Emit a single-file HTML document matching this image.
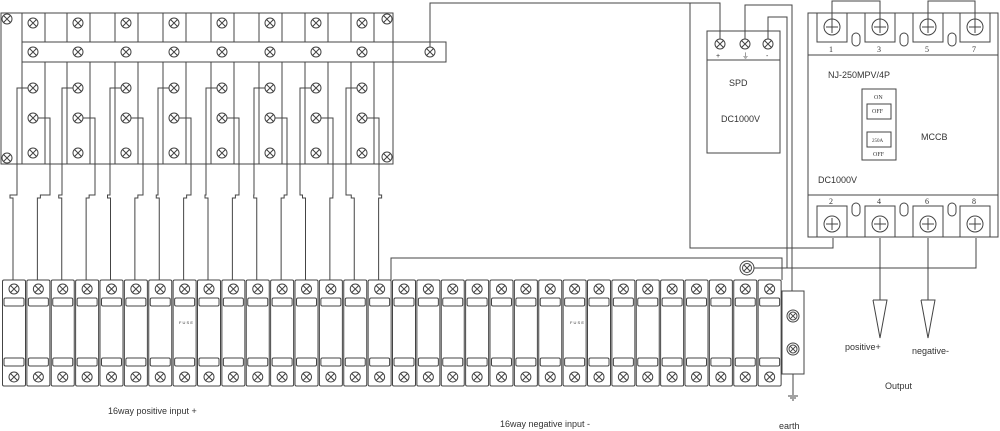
<!DOCTYPE html>
<html><head><meta charset="utf-8"><style>
html,body{margin:0;padding:0;background:#fff;width:1000px;height:431px;overflow:hidden}
svg{display:block}
text{font-family:"Liberation Sans",sans-serif;fill:#333}
</style></head><body>
<svg id="s" width="1000" height="431" viewBox="0 0 1000 431" xmlns="http://www.w3.org/2000/svg" fill="none" stroke="#444" stroke-width="1">
<g id="g"></g>
<text x="108" y="414" font-size="9" stroke="none">16way positive input +</text>
<text x="500" y="427" font-size="9" stroke="none">16way negative input -</text>
<text x="779" y="429" font-size="9" stroke="none">earth</text>
<text x="845" y="350" font-size="9" stroke="none">positive+</text>
<text x="912" y="354" font-size="9" stroke="none">negative-</text>
<text x="885" y="389" font-size="9" stroke="none">Output</text>
<text x="729" y="86" font-size="9" stroke="none">SPD</text>
<text x="721" y="122" font-size="9" stroke="none">DC1000V</text>
<text x="716" y="58" font-size="7" stroke="none">+</text>
<text x="742" y="58" font-size="7" stroke="none">⏚</text>
<text x="766" y="58" font-size="7" stroke="none">-</text>
<text x="828" y="78" font-size="9" stroke="none">NJ-250MPV/4P</text>
<text x="921" y="140" font-size="9" stroke="none">MCCB</text>
<text x="818" y="183" font-size="9" stroke="none">DC1000V</text>
<text x="874" y="99" font-size="6" stroke="none" style="font-family:'Liberation Serif',serif">ON</text>
<text x="872" y="113" font-size="6" stroke="none" style="font-family:'Liberation Serif',serif">OFF</text>
<text x="872" y="142" font-size="5" stroke="none" style="font-family:'Liberation Serif',serif">250A</text>
<text x="873" y="156" font-size="6" stroke="none" style="font-family:'Liberation Serif',serif">OFF</text>
<text x="829" y="52" font-size="8" stroke="none" style="font-family:'Liberation Serif',serif">1</text>
<text x="877" y="52" font-size="8" stroke="none" style="font-family:'Liberation Serif',serif">3</text>
<text x="925" y="52" font-size="8" stroke="none" style="font-family:'Liberation Serif',serif">5</text>
<text x="972" y="52" font-size="8" stroke="none" style="font-family:'Liberation Serif',serif">7</text>
<text x="829" y="204" font-size="8" stroke="none" style="font-family:'Liberation Serif',serif">2</text>
<text x="877" y="204" font-size="8" stroke="none" style="font-family:'Liberation Serif',serif">4</text>
<text x="925" y="204" font-size="8" stroke="none" style="font-family:'Liberation Serif',serif">6</text>
<text x="972" y="204" font-size="8" stroke="none" style="font-family:'Liberation Serif',serif">8</text>
<text x="179" y="324" font-size="4" stroke="none">F U S E</text>
<text x="570" y="324" font-size="4" stroke="none">F U S E</text>
</svg>
<script>
var g=document.getElementById('g'),h='';
function L(p){h+='<polyline points="'+p+'"/>';}
function R(x,y,w,H,rx){h+='<rect x="'+x+'" y="'+y+'" width="'+w+'" height="'+H+'"'+(rx?' rx="'+rx+'"':'')+'/>';}
function S(x,y,r){r=r||5;var d=r*0.7;h+='<circle cx="'+x+'" cy="'+y+'" r="'+r+'"/><path d="M'+(x-d)+' '+(y-d)+'L'+(x+d)+' '+(y+d)+'M'+(x-d)+' '+(y+d)+'L'+(x+d)+' '+(y-d)+'"/>';}
// top busbar frame
R(1,13,392,151);S(7,19);S(7,158);S(387,19);S(387,157);
R(22,42,424,20);S(430,52);
var cs=[33,78,126,174,222,270,316,362];
cs.forEach(function(c,i){
 R(c-11,13,23,29);R(c-11,62,23,102);
 S(c,23);S(c,52);S(c,88);S(c,118);S(c,153);
 var a=13+i*2*24.375, b=a+24.375;
 L((c-5)+',88 '+(c-16)+',88 '+(c-16)+',195 '+(a-3)+',195 '+(a-3)+',198 '+a+',198 '+a+',280');
 L((c+5)+',118 '+(c+17)+',118 '+(c+17)+',195 '+(b+3)+',195 '+(b+3)+',198 '+b+',198 '+b+',280');
});
// fuse modules
for(var k=0;k<32;k++){var x=2+k*24.375;R(x+0.5,280,23,106,1.5);S(x+12,289);R(x+2,298,20,8,1.5);R(x+2,358,20,8,1.5);S(x+12,377);}
// negative bar
L('391,280 391,258 782,258 782,280');h+='<circle cx="747" cy="268" r="7"/>';S(747,268,4.5);
L('754,268 976,268 976,238');
// earth bar
R(782,291,22,83);h+='<circle cx="793" cy="316" r="6"/>';S(793,316,4);h+='<circle cx="793" cy="349" r="6"/>';S(793,349,4);
L('793,374 793,395');L('788,396 798,396');L('790,398 796,398');L('792,400 794,400');
// SPD
R(707,31,73,122);L('707,60 780,60');S(720,44);S(745,44);S(768,44);
L('430,47 430,3 720,3 720,39');L('690,3 690,248 833,248 833,238');
L('745,39 745,5 792,5 792,291');L('768,39 768,17 787,17 787,268');
// MCCB
R(808,13,190,224);L('808,55 998,55');L('808,195 998,195');
[832,880,928,975].forEach(function(x){R(x-15,13,30,29);h+='<circle cx="'+x+'" cy="27" r="8"/><path d="M'+(x-6)+' 27H'+(x+6)+'M'+x+' 21V33"/>';
 R(x-15,206,30,31);h+='<circle cx="'+x+'" cy="224" r="8"/><path d="M'+(x-6)+' 224H'+(x+6)+'M'+x+' 218V230"/>';});
[856,904,952].forEach(function(x){R(x-4,33,8,13,4);R(x-4,203,8,13,4);});
L('832,27 832,1 880,1 880,27');L('928,27 928,1 975,1 975,27');
R(862,89,34,71);R(867,104,24,15);R(867,132,24,15);
// outputs
L('880,238 880,300');L('873,300 887,300 880,338 873,300');
L('928,238 928,300');L('921,300 935,300 928,338 921,300');
g.innerHTML=h;
</script>
</body></html>
